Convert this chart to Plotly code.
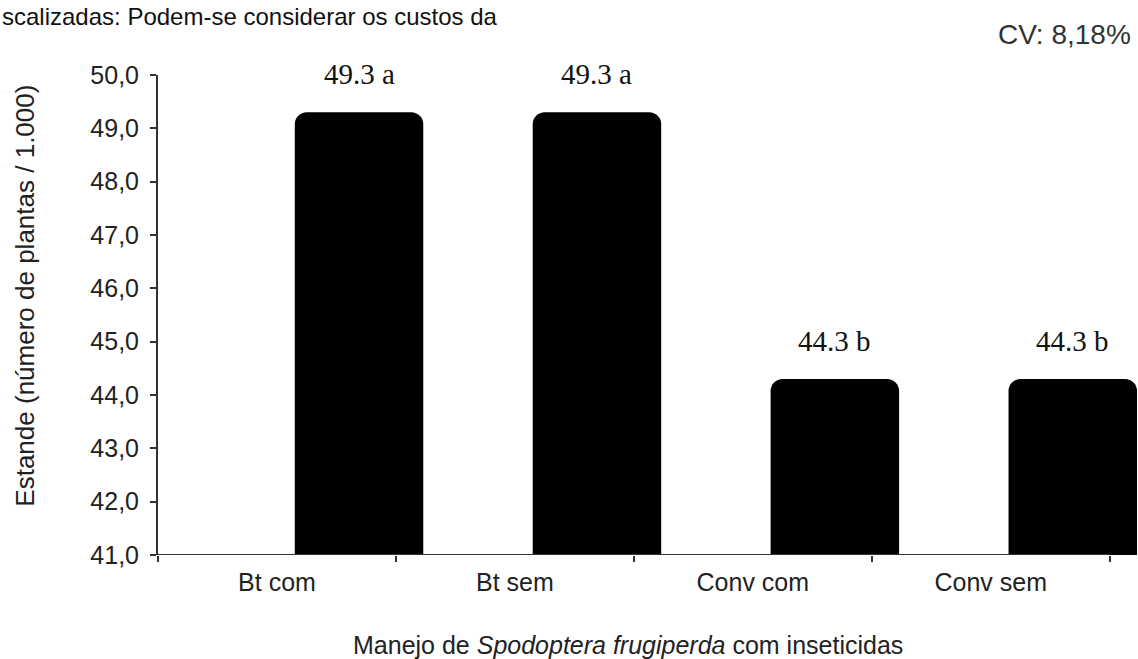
import plotly.graph_objects as go

# Estande de plantas por tratamento
categorias = ["Bt com", "Bt sem", "Conv com", "Conv sem"]
estande = [49.3, 49.3, 44.3, 44.3]
letras = ["a", "a", "b", "b"]
y_ticks = [41, 42, 43, 44, 45, 46, 47, 48, 49, 50]

BAR_OFFSET = 0.075
BAR_WIDTH = 0.54
SANS = "Liberation Sans, Arial, sans-serif"
SERIF = "Liberation Serif, Times New Roman, serif"

fig = go.Figure()
fig.add_trace(go.Bar(
    x=categorias,
    y=estande,
    offset=BAR_OFFSET,
    width=BAR_WIDTH,
    marker=dict(color="#000000", line=dict(width=0), cornerradius=12),
    showlegend=False,
    hoverinfo="skip",
))

annotations = []
for i, (v, l) in enumerate(zip(estande, letras)):
    annotations.append(dict(
        x=i + BAR_OFFSET + BAR_WIDTH / 2, y=v, xref="x", yref="y",
        text=f"{v:.1f} {l}", showarrow=False,
        xanchor="center", yanchor="bottom", yshift=20,
        font=dict(family=SERIF, size=29, color="#111111"),
    ))

annotations += [
    dict(x=-0.136, y=0.54, xref="paper", yref="paper",
         text="Estande (número de plantas / 1.000)", textangle=-90,
         showarrow=False, xanchor="center", yanchor="middle",
         font=dict(family=SANS, size=26, color="#222222")),
    dict(x=0.48, y=-0.188, xref="paper", yref="paper",
         text="Manejo de <i>Spodoptera frugiperda</i> com inseticidas",
         showarrow=False, xanchor="center", yanchor="middle",
         font=dict(family=SANS, size=25, color="#222222")),
    dict(x=0.996, y=1.085, xref="paper", yref="paper",
         text="CV: 8,18%", showarrow=False, xanchor="right", yanchor="middle",
         font=dict(family=SANS, size=28, color="#333333")),
    dict(x=-0.1614, y=1.155, xref="paper", yref="paper",
         text="scalizadas: Podem-se considerar os custos da",
         showarrow=False, xanchor="left", yanchor="top",
         font=dict(family=SANS, size=24, color="#111111")),
]

fig.update_layout(
    width=1138, height=659,
    margin=dict(l=158, r=1, t=75, b=104),
    paper_bgcolor="white", plot_bgcolor="white",
    separators=",.",
    annotations=annotations,
    shapes=[dict(type="line", xref="x", yref="y",
                 x0=-0.5, x1=3.5, y0=41, y1=41,
                 line=dict(color="#333333", width=2))],
)

fig.update_xaxes(
    type="category",
    range=[-0.5, 3.615],
    tickson="boundaries",
    ticks="outside", ticklen=6, tickwidth=1.5, tickcolor="#333333",
    showline=False, showgrid=False, zeroline=False,
    ticklabelstandoff=10,
    tickfont=dict(family=SANS, size=25, color="#222222"),
)

fig.update_yaxes(
    range=[41, 50],
    tickvals=y_ticks,
    tickformat=".1f",
    ticks="outside", ticklen=6, tickwidth=1.5, tickcolor="#333333",
    showline=True, linecolor="#333333", linewidth=2,
    showgrid=False, zeroline=False,
    ticklabelstandoff=6,
    tickfont=dict(family=SANS, size=25, color="#222222"),
)

fig.write_html("out.html")
